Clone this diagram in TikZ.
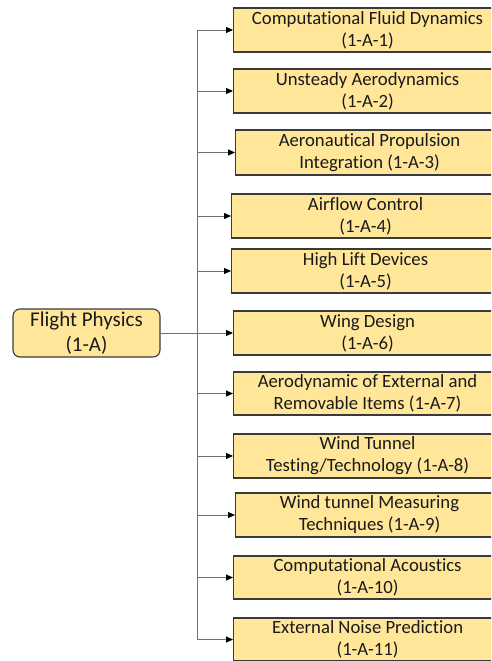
\documentclass[tikz,border=0pt]{standalone}
\usepackage{fontspec}
\setmainfont{Carlito}[Ligatures={NoCommon}]
\usetikzlibrary{arrows.meta}
\definecolor{boxfill}{HTML}{FFE699}
\definecolor{boxline}{HTML}{3A3A3A}
\definecolor{conn}{HTML}{6F6F6F}
\definecolor{txt}{HTML}{1A1A1A}
\tikzset{
  leaf/.style={draw=boxline, line width=1.1pt, fill=boxfill, anchor=west,
    minimum width=268pt, inner sep=0pt, align=center, text=txt,
    font=\fontsize{18.7pt}{22pt}\selectfont},
  rootbox/.style={draw=boxline, line width=1.1pt, fill=boxfill, rounded corners=7pt,
    minimum width=147pt, minimum height=48pt, inner sep=0pt, align=center, text=txt,
    font=\fontsize{21pt}{25pt}\selectfont},
  conn/.style={draw=conn, line width=0.9pt},
  arr/.style={conn, -{Triangle[length=7pt,width=6pt,fill=black,color=black]}}
}
\begin{document}
\begin{tikzpicture}[x=1pt,y=-1pt]
\useasboundingbox (0,0) rectangle (491,661);
\clip (0,0) rectangle (491,661);
\node[rootbox] (root) at (86.5,333) {Flight Physics\\(1-A)};
\node[leaf, minimum height=44pt] (b1) at (233,30) {Computational Fluid Dynamics\\(1-A-1)};
\node[leaf, minimum height=44pt] (b2) at (233,91) {Unsteady Aerodynamics\\(1-A-2)};
\node[leaf, minimum height=45pt] (b3) at (235,152.5) {Aeronautical Propulsion\\Integration (1-A-3)};
\node[leaf, minimum height=44pt] (b4) at (231,216) {Airflow Control\\(1-A-4)};
\node[leaf, minimum height=44pt] (b5) at (231,271) {High Lift Devices\\(1-A-5)};
\node[leaf, minimum height=44pt] (b6) at (233,333) {Wing Design\\(1-A-6)};
\node[leaf, minimum height=43pt] (b7) at (233,393.5) {Aerodynamic of External and\\Removable Items (1-A-7)};
\node[leaf, minimum height=44pt] (b8) at (233,456) {Wind Tunnel\\Testing/Technology (1-A-8)};
\node[leaf, minimum height=44pt] (b9) at (235,515) {Wind tunnel Measuring\\Techniques (1-A-9)};
\node[leaf, minimum height=43pt] (b10) at (233,577.5) {Computational Acoustics\\(1-A-10)};
\node[leaf, minimum height=43pt] (b11) at (233,639.5) {External Noise Prediction\\(1-A-11)};
\coordinate (tr) at (197,333);
\draw[conn] (root.east) -- (tr);
\foreach \b in {b1,b2,b3,b4,b5,b6,b7,b8,b9,b10,b11}{
  \draw[arr] (tr) |- (\b.west);
}
\end{tikzpicture}
\end{document}
